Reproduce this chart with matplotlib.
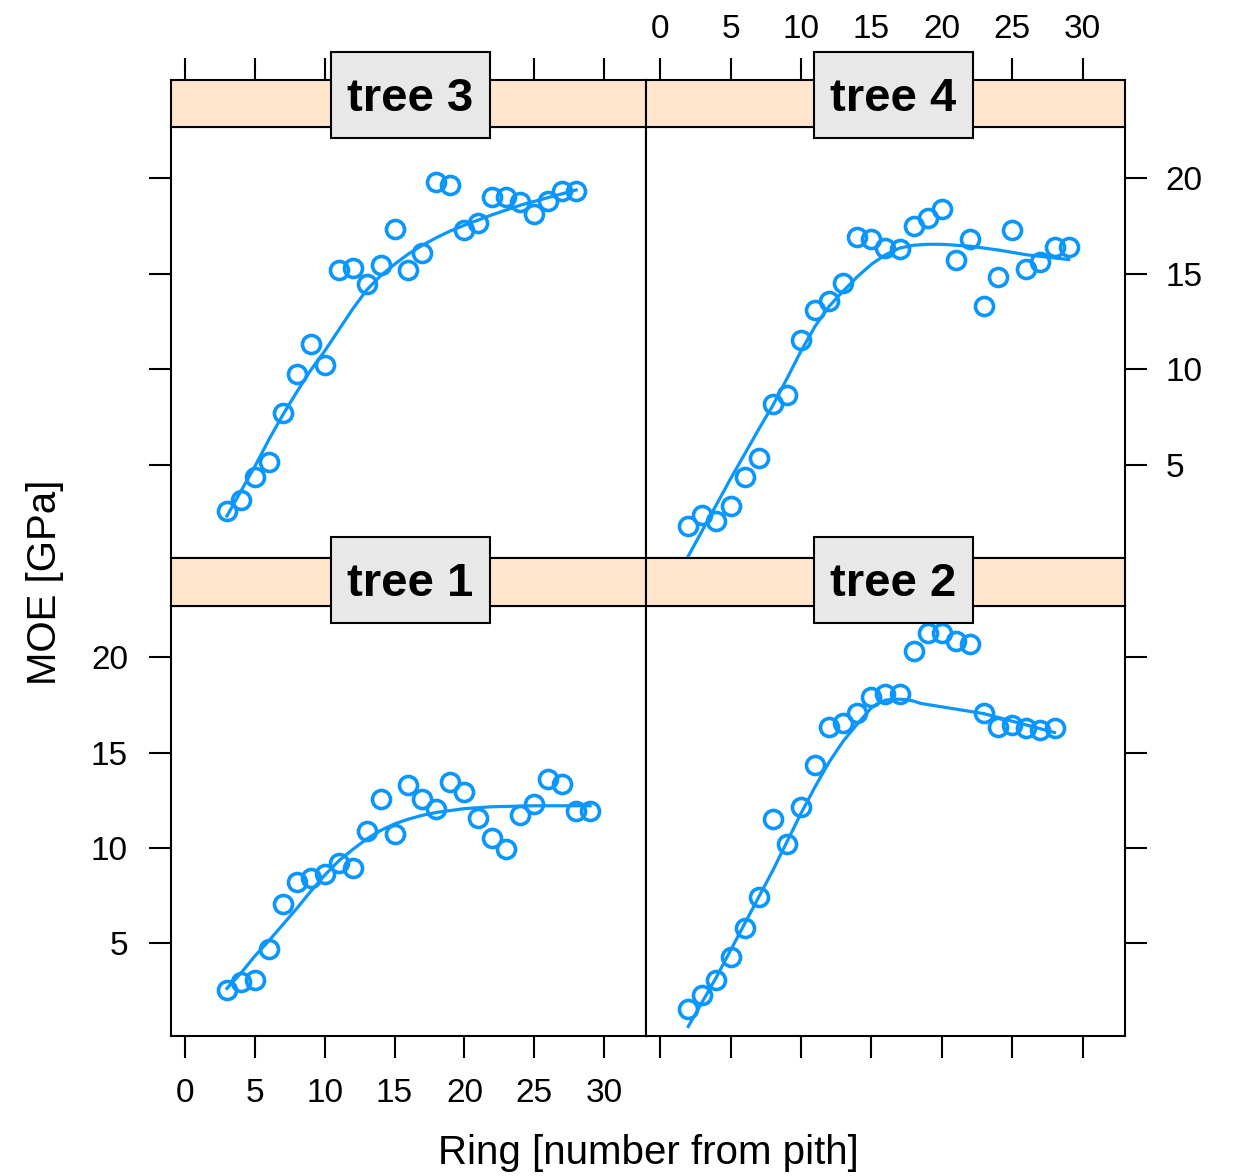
import matplotlib
matplotlib.use("Agg")
import matplotlib.pyplot as plt
from matplotlib.patches import Rectangle

plt.rcParams['font.family'] = ['Liberation Sans', 'DejaVu Sans']

# Ring number (from pith) and MOE [GPa] for each tree
tree1_ring = list(range(3, 30))
tree1_moe = [2.5, 2.95, 3.05, 4.65, 7.05, 8.2, 8.4, 8.6, 9.2, 8.95, 10.85, 12.55,
             10.7, 13.3, 12.55, 12.05, 13.45, 12.9, 11.55, 10.5, 9.95, 11.7, 12.3,
             13.6, 13.35, 11.95, 11.95]
tree1_fit_x = [3, 4, 5, 6, 7, 8, 9, 10, 11, 12, 13, 14, 15, 16, 17, 18, 19, 20, 22, 25, 29]
tree1_fit_y = [2.6, 3.4, 4.3, 5.1, 5.95, 6.8, 7.7, 8.55, 9.3, 9.9, 10.45, 10.9, 11.25,
               11.5, 11.7, 11.85, 11.95, 12.05, 12.15, 12.2, 12.2]

tree2_ring = list(range(2, 29))
tree2_moe = [1.5, 2.25, 3.05, 4.25, 5.8, 7.4, 11.5, 10.2, 12.15, 14.35, 16.35,
             16.55, 17.1, 17.9, 18.05, 18.1, 20.35, 21.3, 21.3, 20.85, 20.7,
             17.1, 16.35, 16.45, 16.3, 16.2, 16.3]
tree2_fit_x = [2, 3, 4, 5, 6, 7, 8, 9, 10, 11, 12, 13, 14, 15, 15.5, 16, 16.5, 17,
               17.5, 18, 18.5, 23, 28]
tree2_fit_y = [0.6, 1.9, 3.2, 4.6, 6.0, 7.4, 8.8, 10.3, 11.8, 13.2, 14.5, 15.6, 16.5,
               17.35, 17.6, 17.75, 17.8, 17.8, 17.78, 17.7, 17.58, 17.04, 16.05]

tree3_ring = list(range(3, 29))
tree3_moe = [2.55, 3.15, 4.35, 5.15, 7.7, 9.75, 11.3, 10.2, 15.2, 15.3, 14.45,
             15.45, 17.35, 15.2, 16.1, 19.8, 19.65, 17.3, 17.65, 19.05, 19.05,
             18.75, 18.15, 18.8, 19.35, 19.35]
tree3_fit_x = [3, 4, 5, 6, 7, 8, 9, 10, 11, 12, 13, 14, 15, 16, 17, 18, 19, 20, 22,
               24, 26, 28]
tree3_fit_y = [2.3, 3.6, 4.9, 6.3, 7.6, 8.8, 9.95, 10.95, 12.05, 13.15, 14.15, 14.9,
               15.5, 16.05, 16.5, 16.9, 17.25, 17.55, 18.1, 18.6, 19.0, 19.4]

tree4_ring = list(range(2, 30))
tree4_moe = [1.8, 2.35, 2.05, 2.85, 4.35, 5.35, 8.15, 8.65, 11.55, 13.1, 13.55,
             14.5, 16.95, 16.85, 16.35, 16.3, 17.5, 17.95, 18.4, 15.75, 16.85,
             13.3, 14.85, 17.3, 15.25, 15.6, 16.4, 16.4]
tree4_fit_x = [2, 3, 4, 5, 6, 7, 8, 9, 10, 11, 12, 13, 14, 15, 16, 17, 18, 19, 20,
               22, 24, 26, 29]
tree4_fit_y = [0.2, 1.55, 2.9, 4.25, 5.55, 6.85, 8.1, 9.5, 10.95, 12.25, 13.3, 14.1,
               14.85, 15.5, 16.0, 16.35, 16.5, 16.55, 16.55, 16.45, 16.25, 16.0, 15.75]

xticks = [0, 5, 10, 15, 20, 25, 30]
yticks = [5, 10, 15, 20]

W, H = 1233, 1176
BLUE = '#0A96FF'
STRIP = '#FFE5CC'


def px_axes(fig, x0, y0, x1, y1):
    return fig.add_axes([x0 / W, 1 - y1 / H, (x1 - x0) / W, (y1 - y0) / H])


fig = plt.figure(figsize=(W / 100, H / 100), dpi=100)

# (name, x data, y data, fit x, fit y, column, row)
panels = [
    ("tree 3", tree3_ring, tree3_moe, tree3_fit_x, tree3_fit_y, 0, 0),
    ("tree 4", tree4_ring, tree4_moe, tree4_fit_x, tree4_fit_y, 1, 0),
    ("tree 1", tree1_ring, tree1_moe, tree1_fit_x, tree1_fit_y, 0, 1),
    ("tree 2", tree2_ring, tree2_moe, tree2_fit_x, tree2_fit_y, 1, 1),
]
col_x = [(171, 646), (646, 1125)]
row_y = [(80, 127, 558), (558, 606, 1036)]
box_cx = [410.5, 893.5]
box_cy = [95, 580]

for name, xs, ys, fx, fy, col, row in panels:
    x0, x1 = col_x[col]
    s0, p0, p1 = row_y[row]
    ax = px_axes(fig, x0, p0, x1, p1)
    ax.plot(fx, fy, color=BLUE, lw=2.3, zorder=2)
    ax.plot(xs, ys, 'o', mfc='none', mec=BLUE, ms=13, mew=2.6, zorder=3)
    ax.set_xlim(-1, 33)
    ax.set_ylim(0.1, 22.7)
    for sp in ax.spines.values():
        sp.set_linewidth(1.5)
    ax.set_xticks(xticks)
    ax.set_yticks(yticks)
    ax.tick_params(direction='out', length=16, width=1.5, labelsize=24,
                   bottom=False, top=False, left=False, right=False,
                   labelbottom=False, labeltop=False, labelleft=False, labelright=False)
    if row == 1 and col == 0:
        ax.tick_params(bottom=True, labelbottom=True, left=True, labelleft=True)
        ax.tick_params(axis='x', pad=14)
        ax.tick_params(axis='y', pad=15)
    if row == 1 and col == 1:
        ax.tick_params(bottom=True, right=True)
    if row == 0 and col == 0:
        ax.tick_params(left=True)
    if row == 0 and col == 1:
        ax.tick_params(right=True, labelright=True, pad=13)

    # strip
    st = px_axes(fig, x0, s0, x1, p0)
    st.set_facecolor(STRIP)
    st.set_xlim(-1, 33)
    st.set_yticks([])
    st.set_xticks(xticks)
    for sp in st.spines.values():
        sp.set_linewidth(1.5)
    st.tick_params(direction='out', length=16, width=1.5, labelsize=24,
                   bottom=False, labelbottom=False, top=(row == 0),
                   labeltop=(row == 0 and col == 1), pad=9)

    # label box on the strip
    bx = box_cx[col]
    by = box_cy[row]
    bw, bh = 159, 86
    fig.patches.append(Rectangle(((bx - bw / 2) / W, 1 - (by + bh / 2) / H), bw / W, bh / H,
                                 transform=fig.transFigure, facecolor='#E8E8E8',
                                 edgecolor='black', lw=1.5, zorder=10))
    fig.text(bx / W, 1 - (by + 4) / H, name, ha='center', va='center',
             fontsize=34, fontweight='bold', zorder=11)

fig.text(648 / W, 1 - 1153 / H, "Ring [number from pith]", ha='center', va='center',
         fontsize=29)
fig.text(45 / W, 1 - 582 / H, "MOE [GPa]", ha='center', va='center', rotation=90,
         fontsize=29)

fig.savefig("out.png", dpi=100)
